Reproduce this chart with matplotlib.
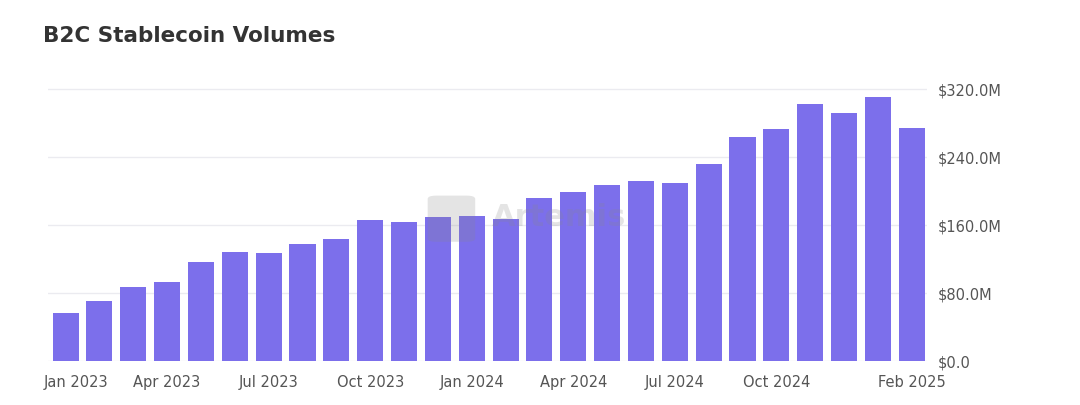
import matplotlib
matplotlib.use("Agg")
import matplotlib.pyplot as plt
from matplotlib.ticker import FuncFormatter
import matplotlib.transforms as mtransforms
from matplotlib.patches import FancyBboxPatch

months = ["Jan 2023", "Feb 2023", "Mar 2023", "Apr 2023", "May 2023", "Jun 2023",
          "Jul 2023", "Aug 2023", "Sep 2023", "Oct 2023", "Nov 2023", "Dec 2023",
          "Jan 2024", "Feb 2024", "Mar 2024", "Apr 2024", "May 2024", "Jun 2024",
          "Jul 2024", "Aug 2024", "Sep 2024", "Oct 2024", "Nov 2024", "Dec 2024",
          "Jan 2025", "Feb 2025"]
volumes_m = [57, 71, 87, 93, 117, 128, 127, 138, 143, 166, 164, 170,
             171, 167, 192, 199, 207, 212, 209, 232, 263, 273, 302, 292, 311, 274]
tick_labels = ["Jan 2023", "Apr 2023", "Jul 2023", "Oct 2023", "Jan 2024",
               "Apr 2024", "Jul 2024", "Oct 2024", "Feb 2025"]
y_ticks = [0, 80, 160, 240, 320]

fig = plt.figure(figsize=(10.8, 4.05), dpi=100)
fig.patch.set_facecolor("white")
ax = fig.add_axes([0.0444, 0.1086, 0.8139, 0.6821])

x = list(range(len(months)))
ax.bar(x, volumes_m, width=0.77, color="#7C6FEB", zorder=3)

ax.set_xlim(-0.52, len(months) - 1 + 0.45)
ax.set_ylim(0, 325)
ax.set_yticks(y_ticks)
ax.yaxis.set_major_formatter(FuncFormatter(lambda v, p: f"${v:.1f}M" if v else "$0.0"))
ax.yaxis.tick_right()
ax.grid(axis="y", color="#ebebf0", linewidth=1, zorder=0)
for s in ax.spines.values():
    s.set_visible(False)

tick_pos = [months.index(t) for t in tick_labels]
ax.set_xticks(tick_pos)
ax.set_xticklabels(tick_labels)
ax.tick_params(axis="x", length=0, pad=10, labelsize=10.5, labelcolor="#555555")
ax.tick_params(axis="y", length=0, pad=8, labelsize=10.5, labelcolor="#555555")

# shift first x label right slightly like reference
first = ax.get_xticklabels()[0]
first.set_transform(first.get_transform() + mtransforms.ScaledTranslation(10/100, 0, fig.dpi_scale_trans))

# watermark
fig.text(0.455, 0.462, "Artemis", fontsize=22, fontweight="bold", color="#888888",
         alpha=0.22, va="center", ha="left", zorder=6)
fig.patches.append(FancyBboxPatch((0.398, 0.405), 0.040, 0.11,
                                  boxstyle="round,pad=0.002,rounding_size=0.008",
                                  transform=fig.transFigure, facecolor="#888888",
                                  alpha=0.22, edgecolor="none", zorder=5))

fig.text(0.040, 0.912, "B2C Stablecoin Volumes", fontsize=15.5, fontweight="bold",
         color="#333333", va="center", ha="left")

fig.savefig("out.png", dpi=100, facecolor="white")
